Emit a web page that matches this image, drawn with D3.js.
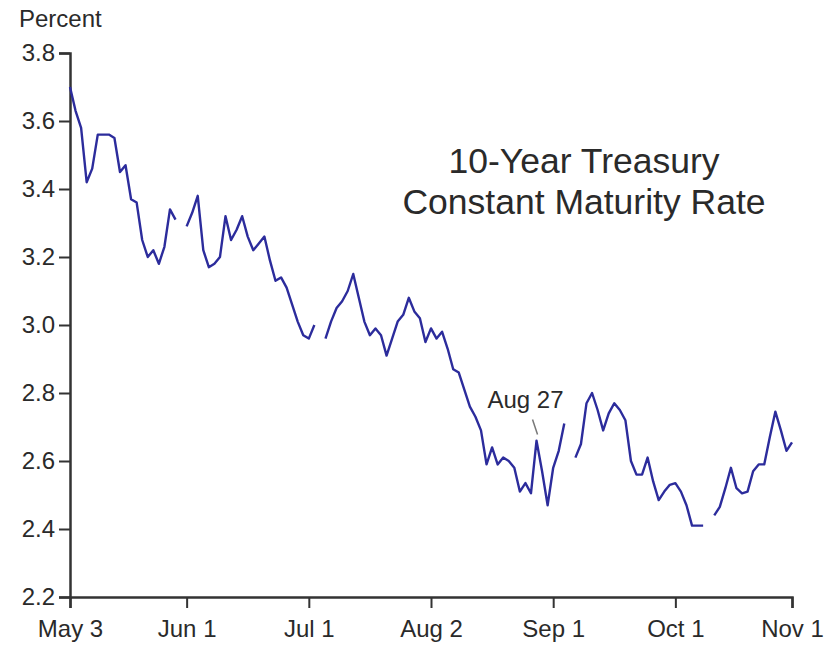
<!DOCTYPE html>
<html>
  <head>
    <meta charset="utf-8">
    <title>10-Year Treasury</title>
    <script src="https://cdnjs.cloudflare.com/ajax/libs/d3/7.8.5/d3.min.js"></script>
    <style>
      body { margin: 0; background-color: white }
      svg text { font-family: "Liberation Sans", Arial, sans-serif; fill: #2a2a2a }
    </style>
  </head>
  <body>
    <div id="chart"></div>
  <script>
// business days from May 3 2010 to Nov 1 2010, null = holiday (no quote)
var startDay = "2010-05-03";
var rates = [
  // May
  3.70, 3.63, 3.58, 3.42, 3.46, 3.56, 3.56, 3.56, 3.55, 3.45,
  3.47, 3.37, 3.36, 3.25, 3.20, 3.22, 3.18, 3.23, 3.34, 3.31, null,
  // Jun
  3.29, 3.33, 3.38, 3.22, 3.17, 3.18, 3.20, 3.32, 3.25, 3.28, 3.32,
  3.26, 3.22, 3.24, 3.26, 3.19, 3.13, 3.14, 3.11, 3.06, 3.01, 2.97,
  // Jul
  2.96, 3.00, null, 2.96, 3.01, 3.05, 3.07, 3.10, 3.15, 3.08, 3.01,
  2.97, 2.99, 2.97, 2.91, 2.96, 3.01, 3.03, 3.08, 3.04, 3.02, 2.95,
  // Aug
  2.99, 2.96, 2.98, 2.93, 2.87, 2.86, 2.81, 2.76, 2.73, 2.69, 2.59,
  2.64, 2.59, 2.61, 2.60, 2.58, 2.51, 2.535, 2.505, 2.66, 2.57, 2.47,
  // Sep
  2.58, 2.63, 2.71, null, 2.61, 2.65, 2.77, 2.80, 2.75, 2.69, 2.74,
  2.77, 2.75, 2.72, 2.60, 2.56, 2.56, 2.61, 2.54, 2.485, 2.51, 2.53,
  // Oct
  2.535, 2.51, 2.47, 2.41, 2.41, 2.41, null, 2.44, 2.465, 2.52, 2.58,
  2.52, 2.505, 2.51, 2.57, 2.59, 2.59, 2.67, 2.745, 2.69, 2.63,
  // Nov
  2.655
];
var tickDays = ["2010-05-03", "2010-06-01", "2010-07-01", "2010-08-02", "2010-09-01", "2010-10-01", "2010-11-01"];
var yTicks = [2.2, 2.4, 2.6, 2.8, 3.0, 3.2, 3.4, 3.6, 3.8];
var titleLines = ["10-Year Treasury", "Constant Maturity Rate"];
var note = {day: "2010-08-27", text: "Aug 27"};

var parse = d3.timeParse("%Y-%m-%d");
var fmt = d3.timeFormat("%Y-%m-%d");

// walk the weekdays so the x axis is in trading days like the original
var days = [];
var d = parse(startDay);
while (days.length < rates.length) {
    if (d.getDay() != 0 && d.getDay() != 6) days.push(fmt(d));
    d = d3.timeDay.offset(d, 1);
}
var data = rates.map(function(v, i){ return {i: i, day: days[i], v: v}; });

var W = 826, H = 647;
var svg = d3.select("#chart").append("svg")
    .attr("width", W)
    .attr("height", H);

var x = d3.scaleLinear().domain([0, rates.length - 1]).range([70, 792]);
var y = d3.scaleLinear().domain([2.2, 3.8]).range([597, 53]);

var xAxis = d3.axisBottom(x)
    .tickValues(tickDays.map(function(t){ return days.indexOf(t); }))
    .tickFormat(function(i){ return d3.timeFormat("%b %-d")(parse(days[i])); })
    .tickSize(11)
    .tickPadding(12);

var yAxis = d3.axisLeft(y)
    .tickValues(yTicks)
    .tickFormat(d3.format(".1f"))
    .tickSize(11)
    .tickPadding(4);

var gx = svg.append("g").attr("transform", "translate(0,597)").call(xAxis);
var gy = svg.append("g").attr("transform", "translate(70,0)").call(yAxis);

[gx, gy].forEach(function(g){
    g.select(".domain").attr("stroke", "#333").attr("stroke-width", 2.5);
    g.selectAll(".tick line").attr("stroke", "#333").attr("stroke-width", 2);
    g.selectAll(".tick text").style("font-size", "24px").attr("fill", "#2a2a2a");
});

svg.append("text")
    .attr("x", 19).attr("y", 27)
    .style("font-size", "24px")
    .text("Percent");

var line = d3.line()
    .defined(function(p){ return p.v != null; })
    .x(function(p){ return x(p.i); })
    .y(function(p){ return y(p.v); });

svg.append("path")
    .datum(data)
    .attr("d", line)
    .attr("fill", "none")
    .attr("stroke", "#2c2c9c")
    .attr("stroke-width", 2.4)
    .attr("stroke-linejoin", "round");

// title
svg.selectAll(".title")
    .data(titleLines)
    .enter().append("text")
    .attr("class", "title")
    .attr("x", 584)
    .attr("y", function(t, k){ return 173 + k * 41; })
    .attr("text-anchor", "middle")
    .style("font-size", "35.5px")
    .text(function(t){ return t; });

// Aug 27 call-out
var ni = days.indexOf(note.day);
svg.append("line")
    .attr("x1", x(ni) - 4).attr("y1", y(rates[ni]) - 21)
    .attr("x2", x(ni) + 1).attr("y2", y(rates[ni]) - 6)
    .attr("stroke", "#777")
    .attr("stroke-width", 1.5);
svg.append("text")
    .attr("x", x(ni) - 11)
    .attr("y", y(rates[ni]) - 33)
    .attr("text-anchor", "middle")
    .style("font-size", "24px")
    .text(note.text);
  </script>
  </body>
</html>
